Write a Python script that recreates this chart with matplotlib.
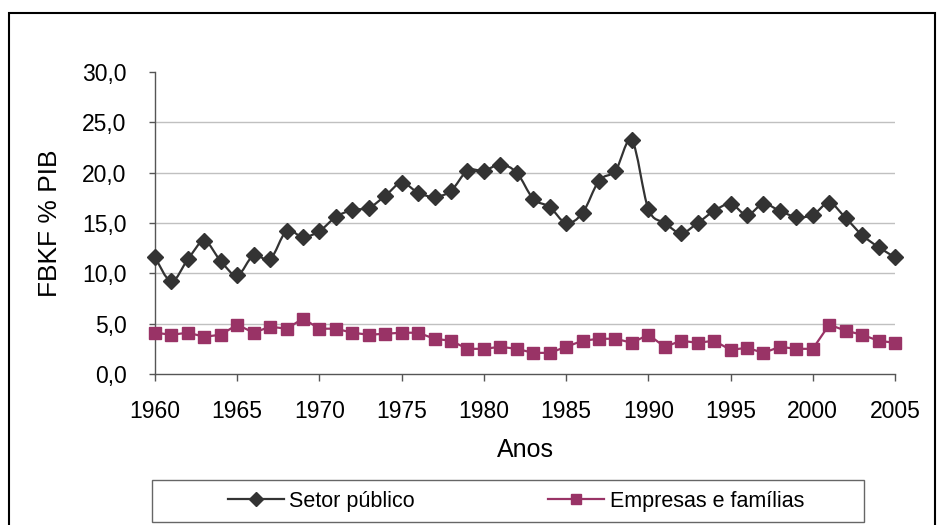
import matplotlib
matplotlib.use("Agg")
import matplotlib.pyplot as plt
from matplotlib.path import Path
from matplotlib.patches import PathPatch, Rectangle
from matplotlib.lines import Line2D
from matplotlib.ticker import FuncFormatter, MultipleLocator

plt.rcParams['font.family'] = ['Liberation Sans', 'DejaVu Sans']

anos = list(range(1960, 2006))
setor_publico = [11.6, 9.2, 11.4, 13.2, 11.2, 9.8, 11.8, 11.4, 14.2, 13.6,
                 14.2, 15.6, 16.3, 16.5, 17.7, 19.0, 18.0, 17.6, 18.2, 20.2,
                 20.2, 20.8, 20.0, 17.4, 16.6, 15.0, 16.0, 19.2, 20.2, 23.2,
                 16.4, 15.0, 14.0, 15.0, 16.2, 16.9, 15.8, 16.9, 16.2, 15.6,
                 15.8, 17.0, 15.5, 13.8, 12.6, 11.6]
empresas_familias = [4.1, 3.9, 4.1, 3.7, 3.9, 4.9, 4.1, 4.7, 4.5, 5.5,
                     4.5, 4.5, 4.1, 3.9, 4.0, 4.1, 4.1, 3.5, 3.3, 2.5,
                     2.5, 2.7, 2.5, 2.1, 2.1, 2.7, 3.3, 3.5, 3.5, 3.1,
                     3.9, 2.7, 3.3, 3.1, 3.3, 2.4, 2.6, 2.1, 2.7, 2.5,
                     2.5, 4.9, 4.3, 3.9, 3.3, 3.1]

cor_setor = '#333333'
cor_empresas = '#993366'


def smooth_path(xs, ys):
    # curva suave (estilo Excel) passando pelos pontos
    pts = list(zip(xs, ys))
    verts = [pts[0]]
    codes = [Path.MOVETO]
    n = len(pts)
    for i in range(n - 1):
        p0 = pts[i - 1] if i > 0 else pts[i]
        p1 = pts[i]
        p2 = pts[i + 1]
        p3 = pts[i + 2] if i + 2 < n else pts[i + 1]
        c1 = (p1[0] + (p2[0] - p0[0]) / 6, p1[1] + (p2[1] - p0[1]) / 6)
        c2 = (p2[0] - (p3[0] - p1[0]) / 6, p2[1] - (p3[1] - p1[1]) / 6)
        verts += [c1, c2, p2]
        codes += [Path.CURVE4] * 3
    return Path(verts, codes)


fig = plt.figure(figsize=(9.43, 5.25), dpi=100)
ax = fig.add_axes([155 / 943, 1 - 374 / 525, 740 / 943, 302 / 525])

for v in [5, 10, 15, 20, 25]:
    ax.axhline(v, color='#c0c0c0', lw=1, zorder=0)

ax.add_patch(PathPatch(smooth_path(anos, setor_publico), fill=False,
                       edgecolor=cor_setor, lw=1.6, clip_on=False, zorder=2))
ax.plot(anos, setor_publico, ls='none', marker='D', ms=8.5, color=cor_setor,
        clip_on=False, zorder=3)
ax.plot(anos, empresas_familias, color=cor_empresas, lw=1.6, marker='s', ms=8,
        clip_on=False, zorder=3)

ax.set_xlim(1960, 2005)
ax.set_ylim(0, 30)
ax.xaxis.set_major_locator(MultipleLocator(5))
ax.yaxis.set_major_locator(MultipleLocator(5))
ax.yaxis.set_major_formatter(FuncFormatter(lambda v, p: f"{v:.1f}".replace('.', ',')))

for s in ['top', 'right']:
    ax.spines[s].set_visible(False)
for s in ['left', 'bottom']:
    ax.spines[s].set_color('#555555')
    ax.spines[s].set_linewidth(1)
ax.tick_params(axis='y', direction='out', length=4.5, width=1, color='#555555',
               labelsize=16.5, pad=16)
ax.tick_params(axis='x', direction='out', length=5, width=1, color='#555555',
               labelsize=16.5, pad=14)

ax.set_ylabel('FBKF % PIB', fontsize=19)
ax.set_xlabel('Anos', fontsize=18)
ax.yaxis.set_label_coords(-0.126, 0.5)
ax.xaxis.set_label_coords(0.5, -0.212)

handles = [
    Line2D([], [], color=cor_setor, lw=1.6, marker='D', ms=7.5),
    Line2D([], [], color=cor_empresas, lw=1.6, marker='s', ms=7.5),
]
fig.legend(handles, ['Setor público', 'Empresas e famílias'], loc='center',
           bbox_to_anchor=(516 / 943, 1 - 501 / 525), ncol=2, frameon=False,
           fontsize=15.5, handlelength=2.6, handletextpad=0.25, columnspacing=6.2)
fig.patches.append(Rectangle((152 / 943, 1 - 522 / 525), 712 / 943, 42 / 525,
                             transform=fig.transFigure, fill=False,
                             edgecolor='#666666', lw=1))
fig.patches.append(Rectangle((9 / 943, -0.05), 926 / 943, 1 - 13 / 525 + 0.05,
                             transform=fig.transFigure, fill=False,
                             edgecolor='black', lw=1.5))

fig.savefig('out.png', dpi=100)
